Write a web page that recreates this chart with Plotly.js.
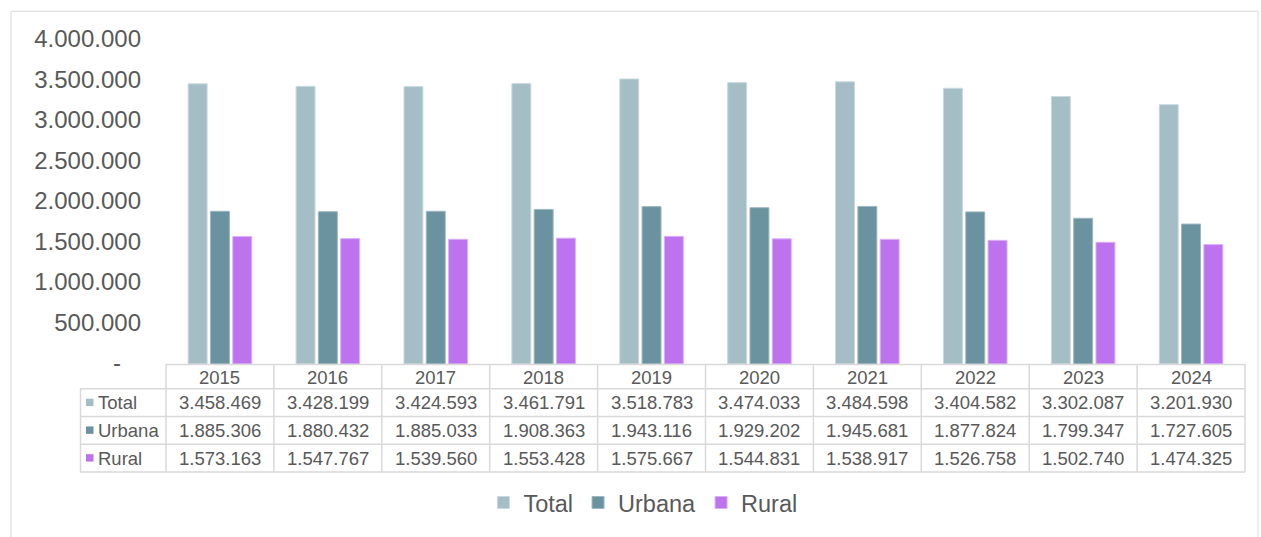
<!DOCTYPE html>
<html><head><meta charset="utf-8">
<script src="https://cdn.plot.ly/plotly-3.0.1.min.js"></script>
<style>html,body{margin:0;padding:0;background:#fff}#chart{width:1261px;height:537px}</style>
</head><body><div id="chart"></div>
<script>
// ---- data ----
const years = ['2015','2016','2017','2018','2019','2020','2021','2022','2023','2024'];
const total  = [3458469,3428199,3424593,3461791,3518783,3474033,3484598,3404582,3302087,3201930];
const urbana = [1885306,1880432,1885033,1908363,1943116,1929202,1945681,1877824,1799347,1727605];
const rural  = [1573163,1547767,1539560,1553428,1575667,1544831,1538917,1526758,1502740,1474325];
const seriesNames = ['Total','Urbana','Rural'];
const yTicks = [0,500000,1000000,1500000,2000000,2500000,3000000,3500000,4000000];

// ---- style ----
const colors = ['#A5BEC5','#6A929F','#BD72EE'];
const lineColors = ['#C9DADF','#9DB8C1','#DBB0F7'];
const txt = '#595959';
const grid = '#D9D9D9';
const FONT = '"Liberation Sans", Arial, Helvetica, sans-serif';
const W = 1261, H = 537, L = 166, R = 1245, T = 40, B = 367;

const fmt = v => v === 0 ? '-\u00a0\u00a0\u00a0' : String(v).replace(/\B(?=(\d{3})+(?!\d))/g, '.');
const py = p => (B - p) / (B - T);
const px = p => (p - L) / (R - L);

const series = [total, urbana, rural];
const traces = series.map((vals, k) => ({
  type: 'bar', name: seriesNames[k], x: years, y: vals,
  marker: {color: colors[k], line: {color: lineColors[k], width: 1}},
  hoverinfo: 'x+y+name'
}));

const rowTop = [392, 420, 448];
const rowBot = [420, 448, 476];
const shapes = [];
const annotations = [];
const ln = {color: grid, width: 1.5};
const cellFont = {family: FONT, size: 18.5, color: txt};

// outer border
shapes.push({type: 'rect', xref: 'paper', yref: 'paper', x0: px(11), x1: px(1258), y0: py(11), y1: py(560), line: {color: grid, width: 1}});
// table horizontal lines
shapes.push({type: 'line', xref: 'paper', yref: 'paper', x0: px(166), x1: px(1245), y0: py(367.5), y1: py(367.5), line: ln});
[392, 420, 448, 476].forEach(y => shapes.push({type: 'line', xref: 'paper', yref: 'paper', x0: px(80), x1: px(1245), y0: py(y), y1: py(y), line: ln}));
// vertical lines
shapes.push({type: 'line', xref: 'paper', yref: 'paper', x0: px(80.5), x1: px(80.5), y0: py(392), y1: py(476), line: ln});
for (let i = 0; i <= years.length; i++) {
  shapes.push({type: 'line', xref: 'paper', yref: 'paper', x0: i / years.length, x1: i / years.length, y0: py(367), y1: py(476), line: ln});
}
// header years (placed at category index on the x axis)
years.forEach((yr, i) => annotations.push({xref: 'x', yref: 'paper', x: i, y: py(380.5), xanchor: 'center', yanchor: 'middle', text: yr, showarrow: false, font: cellFont}));
// rows
series.forEach((vals, k) => {
  const yc = (rowTop[k] + rowBot[k]) / 2;
  shapes.push({type: 'rect', xref: 'paper', yref: 'paper', x0: px(86), x1: px(93.5), y0: py(yc + 3.5), y1: py(yc - 4), fillcolor: colors[k], line: {width: 0}});
  annotations.push({xref: 'paper', yref: 'paper', x: px(96), xanchor: 'left', y: py(yc), yanchor: 'middle', text: seriesNames[k], showarrow: false, font: cellFont});
  vals.forEach((v, i) => annotations.push({xref: 'x', yref: 'paper', x: i, y: py(yc), xanchor: 'center', yanchor: 'middle', text: fmt(v), showarrow: false, font: cellFont}));
});

const layout = {
  width: W, height: H,
  margin: {l: L, r: W - R, t: T, b: H - B, pad: 0},
  paper_bgcolor: '#fff', plot_bgcolor: '#fff',
  font: {family: FONT, color: txt},
  barmode: 'group', bargap: 0.38, bargroupgap: 0.15,
  xaxis: {type: 'category', range: [-0.5, 9.5], showticklabels: false, showgrid: false, zeroline: false, showline: false, ticks: '', fixedrange: true},
  yaxis: {range: [0, 4000000], tickvals: yTicks, ticktext: yTicks.map(fmt), showgrid: false, zeroline: false, showline: false, ticks: '',
          tickfont: {family: FONT, size: 24, color: txt}, ticklabelstandoff: 24, ticklabelshift: -1, fixedrange: true},
  showlegend: true,
  legend: {orientation: 'h', x: 0.442, xanchor: 'center', y: py(507), yanchor: 'middle', font: {family: FONT, size: 23.5, color: txt}, itemclick: false, itemdoubleclick: false},
  shapes: shapes, annotations: annotations
};

Plotly.newPlot('chart', traces, layout, {displayModeBar: false});
</script>
</body></html>
